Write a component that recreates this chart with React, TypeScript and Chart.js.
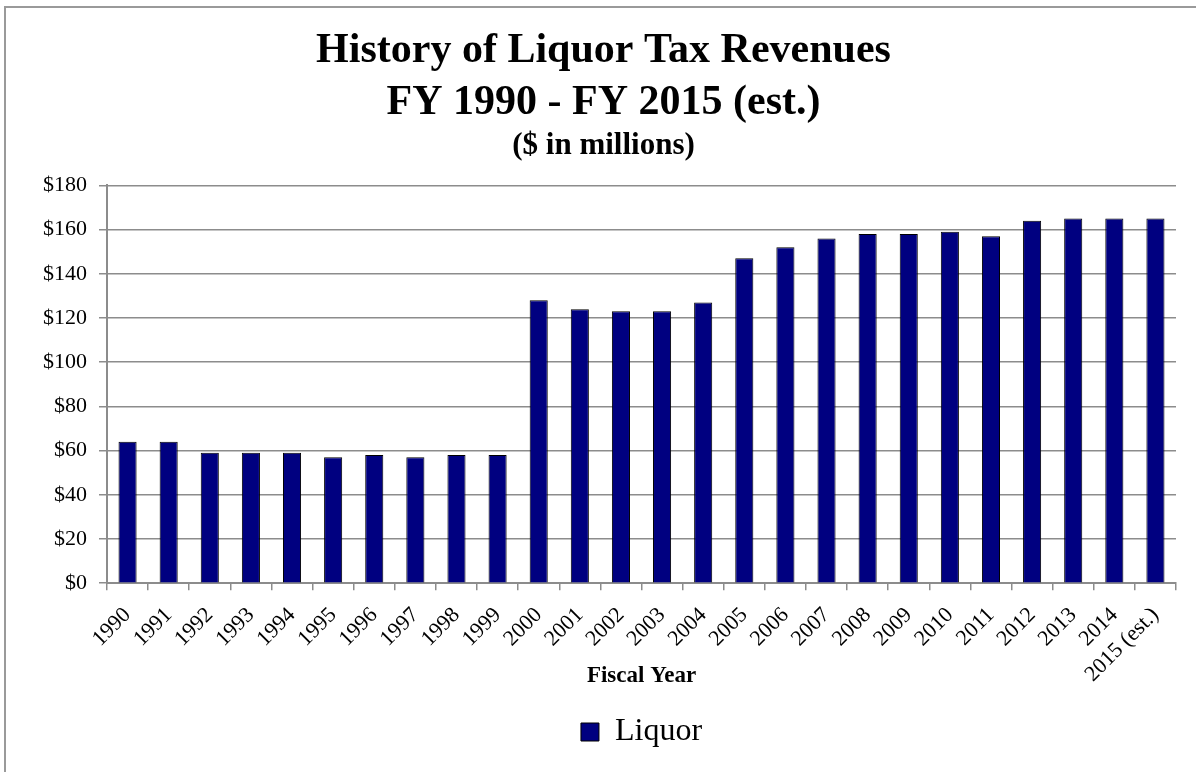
import React, { useEffect, useRef } from "react";
import { Chart, registerables } from "chart.js";

Chart.register(...registerables);

const categories: string[] = [
  "1990", "1991", "1992", "1993", "1994", "1995", "1996", "1997", "1998", "1999",
  "2000", "2001", "2002", "2003", "2004", "2005", "2006", "2007", "2008", "2009",
  "2010", "2011", "2012", "2013", "2014", "2015 (est.)",
];

const liquorValues: number[] = [
  64, 64, 59, 59, 59, 57, 58, 57, 58, 58,
  128, 124, 123, 123, 127, 147, 152, 156, 158, 158,
  159, 157, 164, 165, 165, 165,
];

const titleLines: string[] = ["History of Liquor Tax Revenues", "FY 1990 - FY 2015 (est.)"];
const subtitleText = "($ in millions)";
const xAxisTitle = "Fiscal Year";
const seriesName = "Liquor";
const yMin = 0;
const yMax = 180;
const yStep = 20;

const SERIF = "'Liberation Serif', 'Times New Roman', Times, serif";

export default function App() {
  const canvasRef = useRef<HTMLCanvasElement | null>(null);

  useEffect(() => {
    const canvas = canvasRef.current;
    if (!canvas) return;
    Chart.defaults.color = "#000";
    const chart = new Chart(canvas, {
      type: "bar",
      data: {
        labels: categories,
        datasets: [
          {
            label: seriesName,
            data: liquorValues,
            backgroundColor: "#000080",
            borderColor: "#000000",
            borderWidth: 1,
            barPercentage: 0.44,
            categoryPercentage: 1,
          },
        ],
      },
      options: {
        responsive: false,
        animation: false,
        layout: { padding: { left: 31, right: 20, top: 0, bottom: 14 } },
        plugins: {
          tooltip: { enabled: false },
          title: {
            display: true,
            text: titleLines,
            color: "#000",
            font: { family: SERIF, size: 42, weight: "bold", lineHeight: 1.24 },
            padding: { top: 25, bottom: 0 },
          },
          subtitle: {
            display: true,
            text: subtitleText,
            color: "#000",
            font: { family: SERIF, size: 31, weight: "bold", lineHeight: 1.2 },
            padding: { top: -2, bottom: 21 },
          },
          legend: {
            display: true,
            position: "bottom",
            fullSize: false,
            labels: {
              color: "#000",
              boxWidth: 18,
              boxHeight: 18,
              padding: 10,
              font: { family: SERIF, size: 32 },
            },
          },
        },
        scales: {
          x: {
            grid: {
              display: true,
              drawOnChartArea: false,
              drawTicks: true,
              tickLength: 7,
              color: "#8c8c8c",
              lineWidth: 1.5,
            },
            border: { display: true, color: "#8c8c8c", width: 2 },
            ticks: {
              autoSkip: false,
              minRotation: 45,
              maxRotation: 45,
              padding: 12,
              color: "#000",
              font: { family: SERIF, size: 22 },
            },
            title: {
              display: true,
              text: xAxisTitle,
              color: "#000",
              font: { family: SERIF, size: 23, weight: "bold" },
              padding: { top: -37, bottom: 16 },
            },
          },
          y: {
            min: yMin,
            max: yMax,
            grid: {
              color: "#8c8c8c",
              lineWidth: 1.5,
              drawTicks: true,
              tickLength: 8,
            },
            border: { display: true, color: "#8c8c8c", width: 2 },
            ticks: {
              stepSize: yStep,
              padding: 12,
              color: "#000",
              font: { family: SERIF, size: 22 },
              callback: (v: any) => "$" + v,
            },
          },
        },
      },
    });
    return () => chart.destroy();
  }, []);

  return (
    <div style={{ position: "fixed", left: 0, top: 0, width: 1196, height: 772, overflow: "hidden", background: "#fff" }}>
      <div
        style={{
          position: "absolute",
          left: 4,
          top: 6,
          width: 1300,
          height: 900,
          border: "2px solid #9a9a9a",
        }}
      />
      <canvas ref={canvasRef} width={1196} height={772} style={{ position: "absolute", left: 0, top: 0 }} />
    </div>
  );
}
